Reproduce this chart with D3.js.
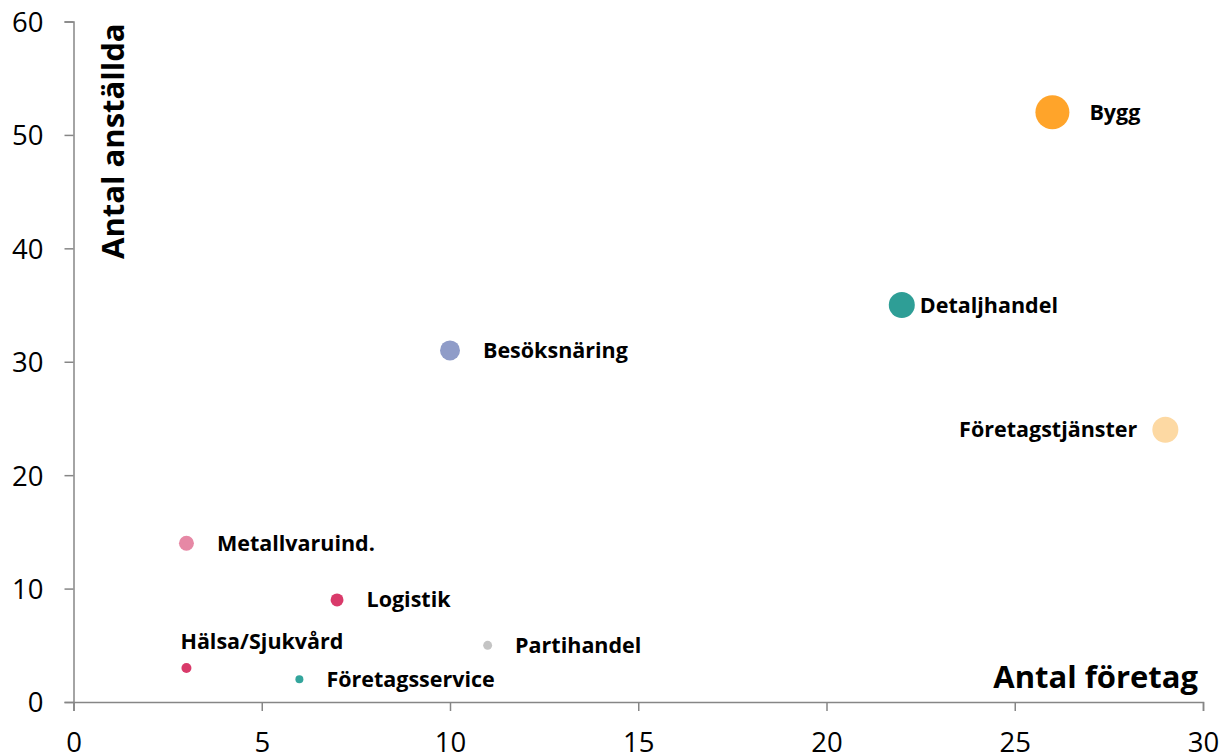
<!DOCTYPE html>
<html>
<head>
<meta charset="utf-8">
<script src="https://cdn.jsdelivr.net/npm/d3@7"></script>
<style>
  body { margin: 0; background: #fff; }
  .tick text { font-family: "Open Sans", sans-serif; font-size: 27.5px; fill: #000; }
  .lbl { font-family: "Open Sans", sans-serif; font-weight: bold; font-size: 21.5px; fill: #000; }
  .title { font-family: "Open Sans", sans-serif; font-weight: bold; font-size: 31px; fill: #000; }
</style>
</head>
<body>
<div id="chart"></div>
<script>
// branscher
let branches = ["Bygg", "Detaljhandel", "Företagstjänster", "Besöksnäring", "Metallvaruind.",
    "Logistik", "Hälsa/Sjukvård", "Partihandel", "Företagsservice"]

let companies = [26, 22, 29, 10, 3, 7, 3, 11, 6]      // antal företag
let employees = [52, 35, 24, 31, 14, 9, 3, 5, 2]      // antal anställda
let bubbleSize = [29, 17, 17, 10, 5.6, 4.2, 2.5, 2, 1.6]

let colors = ["#ffa42a", "#2e9e96", "#fdd9a3", "#8f9cc8", "#e688a5",
    "#d93a6a", "#d93a6a", "#c4c4c4", "#33a59c"]

// label placement: right of bubble, left of bubble, or above
let labelPos = ["right", "right", "left", "right", "right", "right", "above", "right", "right"]

let xTicks = [0, 5, 10, 15, 20, 25, 30]
let yTicks = [0, 10, 20, 30, 40, 50, 60]

var W = 1222, H = 754;
var margin = { top: 21.5, right: 19, bottom: 52, left: 73.5 };
var width = W - margin.left - margin.right,
    height = H - margin.top - margin.bottom;

var svg = d3.select("#chart").append("svg")
    .attr("width", W)
    .attr("height", H);

var g = svg.append("g")
    .attr("transform", "translate(" + margin.left + "," + margin.top + ")");

var x = d3.scaleLinear().domain([0, 30]).range([0, width]);
var y = d3.scaleLinear().domain([0, 60]).range([height, 0]);
var r = d3.scaleSqrt().domain([0, d3.max(bubbleSize)]).range([0, 17]);

// axes
var xAxis = g.append("g")
    .attr("transform", "translate(0," + height + ")")
    .call(d3.axisBottom(x).tickValues(xTicks).tickSize(9).tickPadding(21));
var yAxis = g.append("g")
    .call(d3.axisLeft(y).tickValues(yTicks).tickSize(9).tickPadding(21));

[xAxis, yAxis].forEach(function(a) {
    a.select(".domain").attr("stroke", "#868686").attr("stroke-width", 1.5);
    a.selectAll(".tick line").attr("stroke", "#868686").attr("stroke-width", 1.5);
});
yAxis.selectAll(".tick text").attr("dy", "0.36em");
xAxis.selectAll(".tick text").attr("dy", "0.71em");

var data = branches.map(function(d, i) {
    return { name: d, x: companies[i], y: employees[i], s: bubbleSize[i], c: colors[i], pos: labelPos[i] };
});

// bubbles, biggest first
g.selectAll(".bubble")
    .data(data.slice().sort(function(a, b) { return b.s - a.s; }))
    .enter().append("circle")
    .attr("class", "bubble")
    .attr("cx", function(d) { return x(d.x); })
    .attr("cy", function(d) { return y(d.y); })
    .attr("r", function(d) { return r(d.s); })
    .style("fill", function(d) { return d.c; });

g.selectAll(".lbl")
    .data(data)
    .enter().append("text")
    .attr("class", "lbl")
    .text(function(d) { return d.name; })
    .attr("x", function(d) {
        if (d.pos == "left") return x(d.x) - r(d.s) - 15;
        if (d.pos == "above") return x(d.x) - 6;
        if (d.name == "Detaljhandel") return x(d.x) + r(d.s) + 5;
        if (d.name == "Bygg") return x(d.x) + r(d.s) + 20;
        return x(d.x) + r(d.s) + 23;
    })
    .attr("y", function(d) { return d.pos == "above" ? y(d.y) - 19 : y(d.y); })
    .attr("dy", function(d) { return d.pos == "above" ? 0 : "0.35em"; })
    .style("text-anchor", function(d) { return d.pos == "left" ? "end" : "start"; });

// axis titles
g.append("text")
    .attr("class", "title")
    .attr("transform", "translate(" + 50 + "," + 2 + ") rotate(-90)")
    .style("text-anchor", "end")
    .text("Antal anställda");

g.append("text")
    .attr("class", "title")
    .attr("x", width - 5)
    .attr("y", height - 14)
    .style("text-anchor", "end")
    .text("Antal företag");
</script>
</body>
</html>
